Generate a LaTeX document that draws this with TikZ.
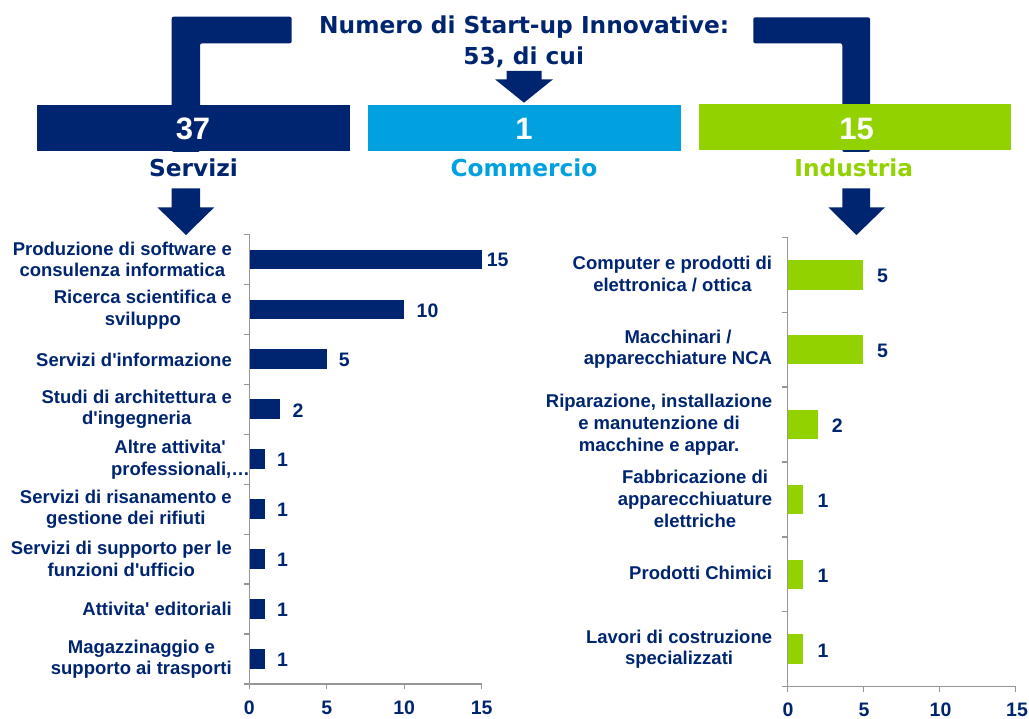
\documentclass[tikz,border=0pt]{standalone}
\usepackage{fontspec}
\setmainfont{Liberation Sans}[Ligatures=TeXOff]
\newfontfamily\heavyfont{DejaVu Sans}[Ligatures=TeXOff]
\definecolor{cnavy}{RGB}{0,37,112}
\definecolor{cblue}{RGB}{0,161,222}
\definecolor{cgreen}{RGB}{146,210,0}
\definecolor{caxis}{RGB}{150,150,150}
\begin{document}
\begin{tikzpicture}[x=1pt,y=-1pt,
  heavy/.style={font=\heavyfont\bfseries\fontsize{23.3}{26}\selectfont, inner sep=0pt, anchor=base},
  boxnum/.style={font=\bfseries\fontsize{31}{34}\selectfont, text=white, inner sep=0pt, anchor=base},
  lbl/.style={font=\bfseries\fontsize{18.5}{21.7}\selectfont, text=cnavy, align=center, anchor=east, inner sep=0pt},
  val/.style={font=\bfseries\fontsize{19.5}{22}\selectfont, text=cnavy, anchor=west, inner sep=0pt},
  ticklbl/.style={font=\bfseries\fontsize{19.5}{22}\selectfont, text=cnavy, inner sep=0pt},
  axisline/.style={draw=caxis, line width=1.2pt},
  blockarrow/.style={fill=cnavy, draw=none}]
\useasboundingbox (0,0) rectangle (1029,719);

% elbows (drawn behind the boxes)
\fill[cnavy, rounded corners=2pt] (171.7,152) -- (171.7,16.7) -- (291.7,16.7) -- (291.7,43.3) -- (200,43.3) -- (200,152) -- cycle;
\fill[cnavy, rounded corners=2pt] (753.3,17.3) -- (870,17.3) -- (870,152) -- (842.3,152) -- (842.3,43.3) -- (753.3,43.3) -- cycle;

% title
\node[heavy, text=cnavy] (title) at (524.2,34) {Numero di Start-up Innovative:};
\node[heavy, text=cnavy] (tot) at (523.7,65) {53, di cui};

% center arrow
\fill[blockarrow] (506.5,71) -- (541.5,71) -- (541.5,79.3) -- (553,79.3) -- (524,102.7) -- (495,79.3) -- (506.5,79.3) -- cycle;

% boxes
\fill[cnavy] (37,105) rectangle (350,151.5);
\fill[cblue] (368.3,105) rectangle (681,151.5);
\fill[cgreen] (699,104) rectangle (1010.5,150.5);
\node[boxnum] (n37) at (193,140) {37};
\node[boxnum] (n1) at (524,140) {1};
\node[boxnum] (n15) at (856.7,139.3) {15};

\node[heavy, text=cnavy] (serv) at (193.5,176.7) {Servizi};
\node[heavy, text=cblue] (comm) at (524,176.7) {Commercio};
\node[heavy, text=cgreen] (ind) at (853.8,176.7) {Industria};

% down arrows
\fill[blockarrow] (171.7,188.3) -- (200,188.3) -- (200,207.3) -- (214.3,207.3) -- (186,235) -- (157.3,207.3) -- (171.7,207.3) -- cycle;
\fill[blockarrow] (842.3,188.3) -- (870,188.3) -- (870,207.3) -- (885,207.3) -- (856.5,235) -- (828.3,207.3) -- (842.3,207.3) -- cycle;

% ---------------- left chart ----------------
\def\lx{249.3}\def\lu{15.49}
\foreach \v [count=\i from 0] in {15,10,5,2,1,1,1,1,1} {
  \pgfmathsetmacro{\yc}{234.3+25+49.97*\i}
  \pgfmathsetmacro{\xe}{\lx+\lu*\v}
  \fill[cnavy] (\lx,\yc-9.75) rectangle (\xe,\yc+9.75);
}
\draw[axisline] (\lx,234.3) -- (\lx,684) -- (481.7,684);
\foreach \i in {0,...,9} { \draw[axisline] (\lx-5,234.3+49.97*\i) -- (\lx,234.3+49.97*\i); }
\foreach \k in {0,1,2,3} { \draw[axisline] (\lx+\lu*5*\k,684) -- (\lx+\lu*5*\k,689); }
\node[ticklbl] (lt0) at (249.3,708) {0};
\node[ticklbl] (lt5) at (326.75,708) {5};
\node[ticklbl] (lt10) at (404.2,708) {10};
\node[ticklbl] (lt15) at (481.7,708) {15};

\node[val] (lv1) at (486.7,260.3) {15};
\node[val] (lv2) at (416.5,310.3) {10};
\node[val] (lv3) at (338.7,360.2) {5};
\node[val] (lv4) at (292.5,410.2) {2};
\node[val] (lv5) at (277,460.2) {1};
\node[val] (lv6) at (277,510.1) {1};
\node[val] (lv7) at (277,560.1) {1};
\node[val] (lv8) at (277,610.1) {1};
\node[val] (lv9) at (277,660.0) {1};

\node[lbl] (ll1) at (232,259.3) {Produzione di software e\\consulenza informatica};
\node[lbl] (ll2) at (232,309.8) {Ricerca scientifica e\\sviluppo};
\node[lbl] (ll3) at (232,359.7) {Servizi d'informazione};
\node[lbl] (ll4) at (232,409.2) {Studi di architettura e\\d'ingegneria};
\node[lbl] (ll5) at (250,459.7) {Altre attivita'\hphantom{xx}\\professionali,…};
\node[lbl] (ll6) at (232,509.2) {Servizi di risanamento e\\gestione dei rifiuti};
\node[lbl] (ll7) at (232,559.2) {Servizi di supporto per le\\funzioni d'ufficio};
\node[lbl] (ll8) at (232,608.8) {Attivita' editoriali};
\node[lbl] (ll9) at (232,659.2) {Magazzinaggio e\\supporto ai trasporti};

% ---------------- right chart ----------------
\def\rx{787.3}\def\ru{15.23}
\foreach \v [count=\i from 0] in {5,5,2,1,1,1} {
  \pgfmathsetmacro{\yc}{237.3+37.45+74.9*\i}
  \pgfmathsetmacro{\xe}{\rx+\ru*\v}
  \fill[cgreen] (\rx,\yc-14.85) rectangle (\xe,\yc+14.85);
}
\draw[axisline] (\rx,237.3) -- (\rx,686.7) -- (1015.7,686.7);
\foreach \i in {0,...,6} { \draw[axisline] (\rx-5,237.3+74.9*\i) -- (\rx,237.3+74.9*\i); }
\foreach \k in {0,1,2,3} { \draw[axisline] (\rx+\ru*5*\k,686.7) -- (\rx+\ru*5*\k,691.7); }
\node[ticklbl] (rt0) at (788,710) {0};
\node[ticklbl] (rt5) at (864,710) {5};
\node[ticklbl] (rt10) at (940.5,710) {10};
\node[ticklbl] (rt15) at (1017,710) {15};

\node[val] (rv1) at (877,275.8) {5};
\node[val] (rv2) at (877,350.7) {5};
\node[val] (rv3) at (831.7,425.6) {2};
\node[val] (rv4) at (817.5,500.5) {1};
\node[val] (rv5) at (817.5,575.4) {1};
\node[val] (rv6) at (817.5,650.3) {1};

\node[lbl] (rl1) at (772.3,274.2) {Computer e prodotti di\\elettronica / ottica};
\node[lbl] (rl2) at (772.3,349.2) {Macchinari /\\apparecchiature NCA};
\node[lbl] (rl3) at (772.3,424.7) {Riparazione, installazione\\e manutenzione di\\macchine e appar.};
\node[lbl] (rl4) at (772.3,499) {Fabbricazione di\\apparecchiuature\\elettriche};
\node[lbl] (rl5) at (772.3,573.3) {Prodotti Chimici};
\node[lbl] (rl6) at (772.3,649.2) {Lavori di costruzione\\specializzati};
\end{tikzpicture}
\end{document}
